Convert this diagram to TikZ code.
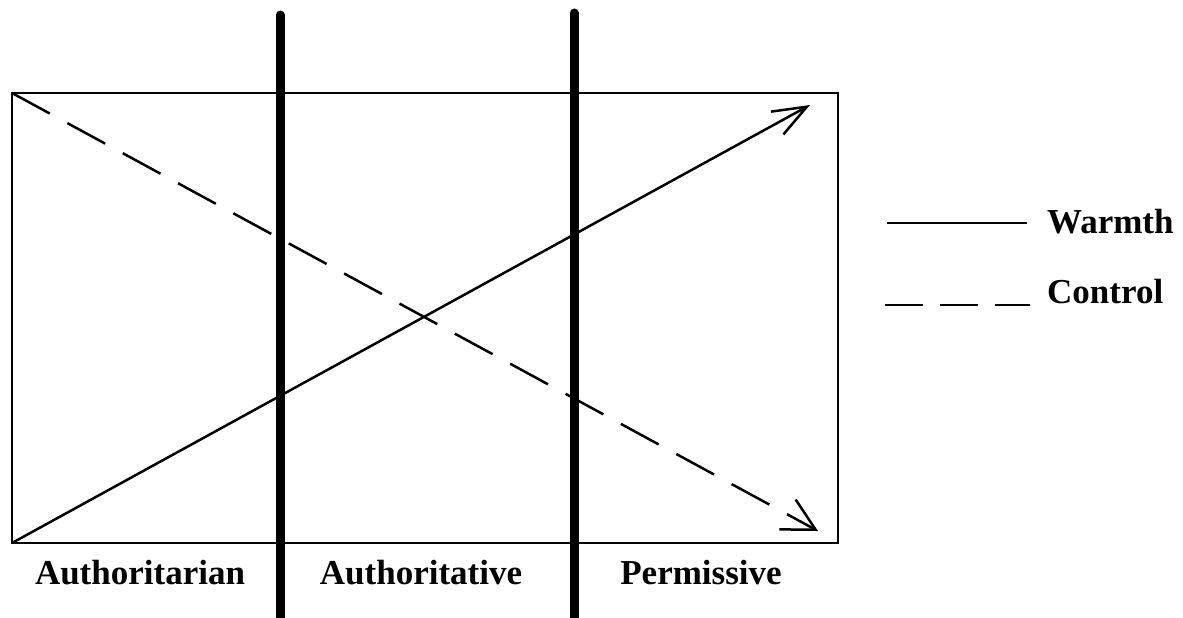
\documentclass[tikz,border=0pt]{standalone}
\usepackage{fontspec}
\setmainfont{Liberation Serif}
\usetikzlibrary{arrows.meta}

\begin{document}
\begin{tikzpicture}[x=1pt,y=-1pt,
  lbl/.style={font=\fontsize{35}{40}\selectfont\bfseries,inner sep=0pt},
  divider/.style={line width=9pt,line cap=round},
  warm/.style={line width=2.5pt,
               -{Straight Barb[length=34pt,width=26pt,line width=2.5pt]}},
  ctrl/.style={line width=2.5pt,dash pattern=on 43pt off 20pt,
               -{Straight Barb[length=32pt,width=34pt,line width=2.5pt]}},
]
  \useasboundingbox (0,0) rectangle (1183,618);

  \node[draw,line width=1.5pt,inner sep=0pt,outer sep=0pt,
        minimum width=826pt,minimum height=450pt,
        anchor=north west](frame) at (12,93) {};

  % styles of parenting
  \foreach \x/\t in {280/15,574/13}{%
    \draw[divider] (\x,\t) -- (\x,622);}

  \node[lbl,anchor=base](autn) at (140,584) {Authoritarian};
  \node[lbl,anchor=base](autv) at (421,584) {Authoritative};
  \node[lbl,anchor=base](perm) at (701,584) {Permissive};

  % warmth and control
  \coordinate (warmtip) at (810,105);
  \coordinate (ctrltip) at (818,531);
  \draw[warm] (frame.south west) -- (warmtip);
  \draw[ctrl] (frame.north west) -- (ctrltip);

  % legend
  \node[lbl,anchor=base west](warmth) at (1047,233) {Warmth};
  \node[lbl,anchor=base west](control) at (1047,303) {Control};
  \coordinate (warmkey) at (887,223);
  \coordinate (ctrlkey) at (885,305);
  \draw[line width=2.5pt] (warmkey) -- (warmkey -| 1027,0);
  \draw[line width=2.5pt,dash pattern=on 38pt off 17pt]
    (ctrlkey) -- (ctrlkey -| 1030,0);
\end{tikzpicture}
\end{document}
